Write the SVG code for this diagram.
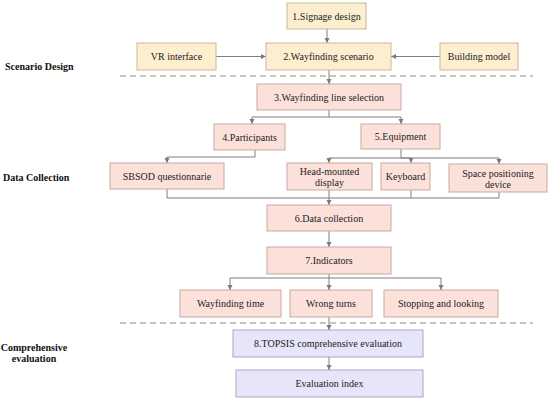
<svg xmlns="http://www.w3.org/2000/svg" width="550" height="401" viewBox="0 0 550 401">
<defs>
<marker id="ah" markerWidth="6" markerHeight="6" refX="5" refY="3" orient="auto" markerUnits="userSpaceOnUse">
<path d="M0,0.5 L5,3 L0,5.5 Z" fill="#7a7a7a"/>
</marker>
<style>
text{font-family:"Times New Roman",Times,"Liberation Serif",Tinos,"Nimbus Roman","DejaVu Serif",serif}
.y{fill:#fcefcf;stroke:#c8b995;stroke-width:1}
.p{fill:#fbe1da;stroke:#c9aaa3;stroke-width:1}
.v{fill:#e7e5f9;stroke:#a9a7c8;stroke-width:1}
.t{font-size:10px;fill:#222;text-anchor:middle;dominant-baseline:central}
.s{font-size:10px;font-weight:bold;fill:#111}
.c{fill:none;stroke:#7f7f7f;stroke-width:1}
.a{fill:none;stroke:#7f7f7f;stroke-width:1;marker-end:url(#ah)}
.d{fill:none;stroke:#8a8a8a;stroke-width:1;stroke-dasharray:6,4}
</style>
</defs>
<rect width="550" height="401" fill="#fff"/>
<g id="section-labels">
<text class="s" x="5" y="70">Scenario Design</text>
<text class="s" x="3" y="181">Data Collection</text>
<text class="s" x="34" y="351" text-anchor="middle">Comprehensive</text>
<text class="s" x="34" y="362" text-anchor="middle">evaluation</text>
</g>
<g id="dividers">
<line class="d" x1="120" y1="76" x2="533" y2="76"/>
<line class="d" x1="120" y1="323" x2="533" y2="323"/>
</g>
<g id="connectors">
<line class="a" x1="327" y1="29" x2="327" y2="43"/>
<line class="a" x1="216" y1="56.5" x2="266" y2="56.5"/>
<line class="a" x1="440" y1="56.5" x2="391" y2="56.5"/>
<line class="a" x1="329" y1="70" x2="329" y2="84"/>
<polyline class="c" points="329,110 329,117"/>
<polyline class="a" points="329,117 252,117 252,124"/>
<polyline class="a" points="329,117 401,117 401,124"/>
<polyline class="a" points="255,150 255,157 167,157 167,163"/>
<polyline class="c" points="401,149 401,158"/>
<polyline class="a" points="401,158 329,158 329,163"/>
<polyline class="a" points="401,158 411,158 411,163"/>
<polyline class="a" points="401,158 499,158 499,164"/>
<polyline class="c" points="167,189 167,198 499,198 499,192"/>
<line class="c" x1="411" y1="190" x2="411" y2="198"/>
<line class="a" x1="329" y1="190" x2="329" y2="205"/>
<line class="a" x1="329" y1="231" x2="329" y2="247"/>
<line class="c" x1="329" y1="274" x2="329" y2="278"/>
<polyline class="a" points="329,278 230,278 230,290"/>
<line class="a" x1="329" y1="278" x2="329" y2="290"/>
<polyline class="a" points="329,278 441,278 441,290"/>
<line class="a" x1="329" y1="317" x2="329" y2="330"/>
<line class="a" x1="329" y1="357" x2="329" y2="370"/>
</g>
<g id="n1"><rect class="y" x="287" y="3" width="79" height="26"/><text class="t" x="326.5" y="16">1.Signage design</text></g>
<g id="vr"><rect class="y" x="137" y="43" width="79" height="27"/><text class="t" x="176.5" y="56.5">VR interface</text></g>
<g id="n2"><rect class="y" x="266" y="43" width="125" height="27"/><text class="t" x="328.5" y="56.5">2.Wayfinding scenario</text></g>
<g id="bm"><rect class="y" x="440" y="43" width="78" height="27"/><text class="t" x="479" y="56.5">Building model</text></g>
<g id="n3"><rect class="p" x="257" y="84" width="144" height="26"/><text class="t" x="329" y="97">3.Wayfinding line selection</text></g>
<g id="n4"><rect class="p" x="214" y="124" width="71" height="26"/><text class="t" x="249.5" y="137">4.Participants</text></g>
<g id="n5"><rect class="p" x="361" y="124" width="79" height="25"/><text class="t" x="400.5" y="136.5">5.Equipment</text></g>
<g id="sbsod"><rect class="p" x="110" y="163" width="114" height="26"/><text class="t" x="167" y="176">SBSOD questionnarie</text></g>
<g id="hmd"><rect class="p" x="287" y="163" width="85" height="27"/><text class="t" x="329.5" y="171">Head-mounted</text><text class="t" x="329.5" y="182">display</text></g>
<g id="kb"><rect class="p" x="381" y="163" width="49" height="27"/><text class="t" x="405.5" y="176.5">Keyboard</text></g>
<g id="spd"><rect class="p" x="449" y="164" width="98" height="28"/><text class="t" x="498" y="173">Space positioning</text><text class="t" x="498" y="184">device</text></g>
<g id="n6"><rect class="p" x="267" y="205" width="124" height="26"/><text class="t" x="329" y="218">6.Data collection</text></g>
<g id="n7"><rect class="p" x="267" y="247" width="124" height="27"/><text class="t" x="329" y="260.5">7.Indicators</text></g>
<g id="wt"><rect class="p" x="180" y="290" width="101" height="27"/><text class="t" x="230.5" y="303.5">Wayfinding time</text></g>
<g id="wr"><rect class="p" x="290" y="290" width="82" height="27"/><text class="t" x="331" y="303.5">Wrong turns</text></g>
<g id="sl"><rect class="p" x="384" y="290" width="114" height="27"/><text class="t" x="441" y="303.5">Stopping and looking</text></g>
<g id="n8"><rect class="v" x="233" y="330" width="190" height="27"/><text class="t" x="328" y="343.5">8.TOPSIS comprehensive evaluation</text></g>
<g id="ei"><rect class="v" x="236" y="370" width="187" height="27"/><text class="t" x="329.5" y="383.5">Evaluation index</text></g>
</svg>
